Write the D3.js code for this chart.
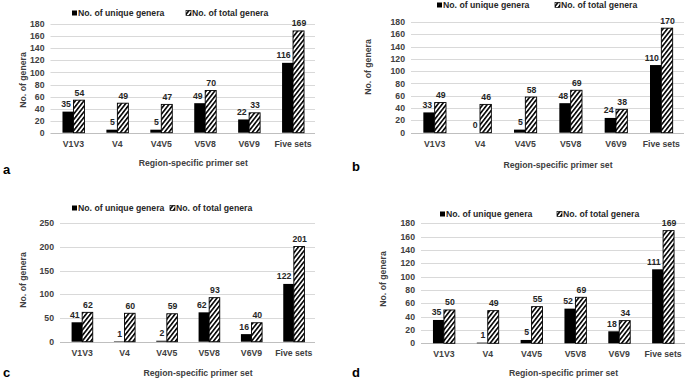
<!DOCTYPE html>
<html>
<head>
<meta charset="utf-8">
<script src="https://cdn.jsdelivr.net/npm/d3@7"></script>
<style>
body { margin: 0; background: #fff; }
text { font-family: "Liberation Sans", Arial, sans-serif; font-weight: bold; }
</style>
</head>
<body>
<script>
const categories = ["V1V3", "V4", "V4V5", "V5V8", "V6V9", "Five sets"];
const seriesNames = ["No. of unique genera", "No. of total genera"];
const panelLetters = ["a", "b", "c", "d"];

const uniqueA = [35, 5, 5, 49, 22, 116];
const totalA = [54, 49, 47, 70, 33, 169];
const uniqueB = [33, 0, 5, 48, 24, 110];
const totalB = [49, 46, 58, 69, 38, 170];
const uniqueC = [41, 1, 2, 62, 16, 122];
const totalC = [62, 60, 59, 93, 40, 201];
const uniqueD = [35, 1, 5, 52, 18, 111];
const totalD = [50, 49, 55, 69, 34, 169];

const ticks180 = [0, 20, 40, 60, 80, 100, 120, 140, 160, 180];
const ticks250 = [0, 50, 100, 150, 200, 250];

const yTitle = "No. of genera";
const xTitle = "Region-specific primer set";

// layout of each panel (pixel boxes)
let panels = [
	{ letter: panelLetters[0], u: uniqueA, t: totalA, ticks: ticks180,
	  x0: 51.5, x1: 315, yb: 132.7, yt: 24.3,
	  legY: 13, leg1: 72, leg2: 186, yTx: 23, yTy: 80, xTy: 166, letX: 3, letY: 174 },
	{ letter: panelLetters[1], u: uniqueB, t: totalB, ticks: ticks180,
	  x0: 412, x1: 684, yb: 132.7, yt: 22,
	  legY: 5, leg1: 437, leg2: 555, yTx: 368, yTy: 67, xTy: 168, letX: 352, letY: 171 },
	{ letter: panelLetters[2], u: uniqueC, t: totalC, ticks: ticks250,
	  x0: 61, x1: 315, yb: 341.7, yt: 223.3,
	  legY: 208, leg1: 72, leg2: 170, yTx: 23, yTy: 280, xTy: 376, letX: 3, letY: 377 },
	{ letter: panelLetters[3], u: uniqueD, t: totalD, ticks: ticks180,
	  x0: 422, x1: 685, yb: 343.3, yt: 223.3,
	  legY: 214, leg1: 440, leg2: 557, yTx: 383, yTy: 279, xTy: 376, letX: 352, letY: 377 }
];

let svg = d3.select("body").append("svg")
	.attr("width", 685)
	.attr("height", 379);

let defs = svg.append("defs");
let pat = defs.append("pattern")
	.attr("id", "hatch")
	.attr("patternUnits", "userSpaceOnUse")
	.attr("width", 3.4)
	.attr("height", 4)
	.attr("patternTransform", "rotate(38)");
pat.append("rect").attr("width", 3.4).attr("height", 4).attr("fill", "#fff");
pat.append("rect").attr("width", 1.6).attr("height", 4).attr("fill", "#000");

const fs = 8.7;

panels.forEach(function(p) {
	let g = svg.append("g");

	let x = d3.scaleBand()
		.domain(categories)
		.range([p.x0, p.x1])
		.paddingInner(0.5)
		.paddingOuter(0.25);
	let xs = d3.scaleBand()
		.domain([0, 1])
		.range([0, x.bandwidth()]);
	let y = d3.scaleLinear()
		.domain([0, d3.max(p.ticks)])
		.range([p.yb, p.yt]);

	// grid
	g.selectAll(".grid")
		.data(p.ticks)
		.enter().append("line")
		.attr("x1", p.x0 - 1).attr("x2", p.x1)
		.attr("y1", function(d) { return Math.round(y(d)) + 0.5; })
		.attr("y2", function(d) { return Math.round(y(d)) + 0.5; })
		.attr("stroke", function(d) { return d === 0 ? "#bfbfbf" : "#d9d9d9"; })
		.attr("stroke-width", 1);

	g.selectAll(".tick")
		.data(p.ticks)
		.enter().append("text")
		.attr("x", p.x0 - 7)
		.attr("y", function(d) { return y(d); })
		.attr("dy", "0.35em")
		.attr("text-anchor", "end")
		.attr("font-size", fs)
		.attr("fill", "#404040")
		.text(function(d) { return d; });

	let rows = categories.map(function(c, i) {
		return { cat: c, vals: [p.u[i], p.t[i]] };
	});

	let grp = g.selectAll(".grp")
		.data(rows)
		.enter().append("g")
		.attr("transform", function(d) { return "translate(" + x(d.cat) + ",0)"; });

	grp.selectAll("rect")
		.data(function(d) { return d.vals; })
		.enter().append("rect")
		.attr("x", function(d, i) { return xs(i); })
		.attr("y", function(d) { return y(d); })
		.attr("width", xs.bandwidth())
		.attr("height", function(d) { return y(0) - y(d); })
		.attr("fill", function(d, i) { return i === 0 ? "#000" : "url(#hatch)"; })
		.attr("stroke", "#000")
		.attr("stroke-width", function(d, i) { return i === 0 ? 0 : 0.9; });

	// unique labels sit left of centre, total labels centred
	grp.selectAll(".val")
		.data(function(d) { return d.vals; })
		.enter().append("text")
		.attr("x", function(d, i) {
			return i === 0 ? xs(i) + xs.bandwidth() - 2.5 : xs(i) + xs.bandwidth() / 2 + 0.5;
		})
		.attr("y", function(d) { return y(d) - 4.5; })
		.attr("text-anchor", function(d, i) { return i === 0 ? "end" : "middle"; })
		.attr("font-size", fs)
		.attr("fill", "#262626")
		.text(function(d) { return d; });

	// category labels
	g.selectAll(".cat")
		.data(categories)
		.enter().append("text")
		.attr("x", function(d) { return x(d) + x.bandwidth() / 2; })
		.attr("y", p.yb + 14)
		.attr("text-anchor", "middle")
		.attr("font-size", fs)
		.attr("fill", "#404040")
		.text(function(d) { return d; });

	// legend
	let leg = g.selectAll(".leg")
		.data(seriesNames)
		.enter().append("g")
		.attr("transform", function(d, i) {
			return "translate(" + (i === 0 ? p.leg1 : p.leg2) + "," + p.legY + ")";
		});
	leg.append("rect")
		.attr("x", 0).attr("y", -2.5)
		.attr("width", 5).attr("height", 5)
		.attr("fill", function(d, i) { return i === 0 ? "#000" : "url(#hatch)"; })
		.attr("stroke", "#000")
		.attr("stroke-width", function(d, i) { return i === 0 ? 0 : 0.7; });
	leg.append("text")
		.attr("x", 6)
		.attr("y", 0)
		.attr("dy", "0.35em")
		.attr("font-size", fs)
		.attr("fill", "#262626")
		.text(function(d) { return d; });

	// axis titles
	g.append("text")
		.attr("transform", "translate(" + p.yTx + "," + p.yTy + ") rotate(-90)")
		.attr("text-anchor", "middle")
		.attr("dy", "0.35em")
		.attr("font-size", fs)
		.attr("fill", "#404040")
		.text(yTitle);

	g.append("text")
		.attr("x", (p.x0 + p.x1) / 2 + 10)
		.attr("y", p.xTy)
		.attr("text-anchor", "middle")
		.attr("font-size", fs)
		.attr("fill", "#404040")
		.text(xTitle);

	g.append("text")
		.attr("x", p.letX)
		.attr("y", p.letY)
		.attr("font-size", 13)
		.attr("fill", "#000")
		.text(p.letter);
});
</script>
</body>
</html>
